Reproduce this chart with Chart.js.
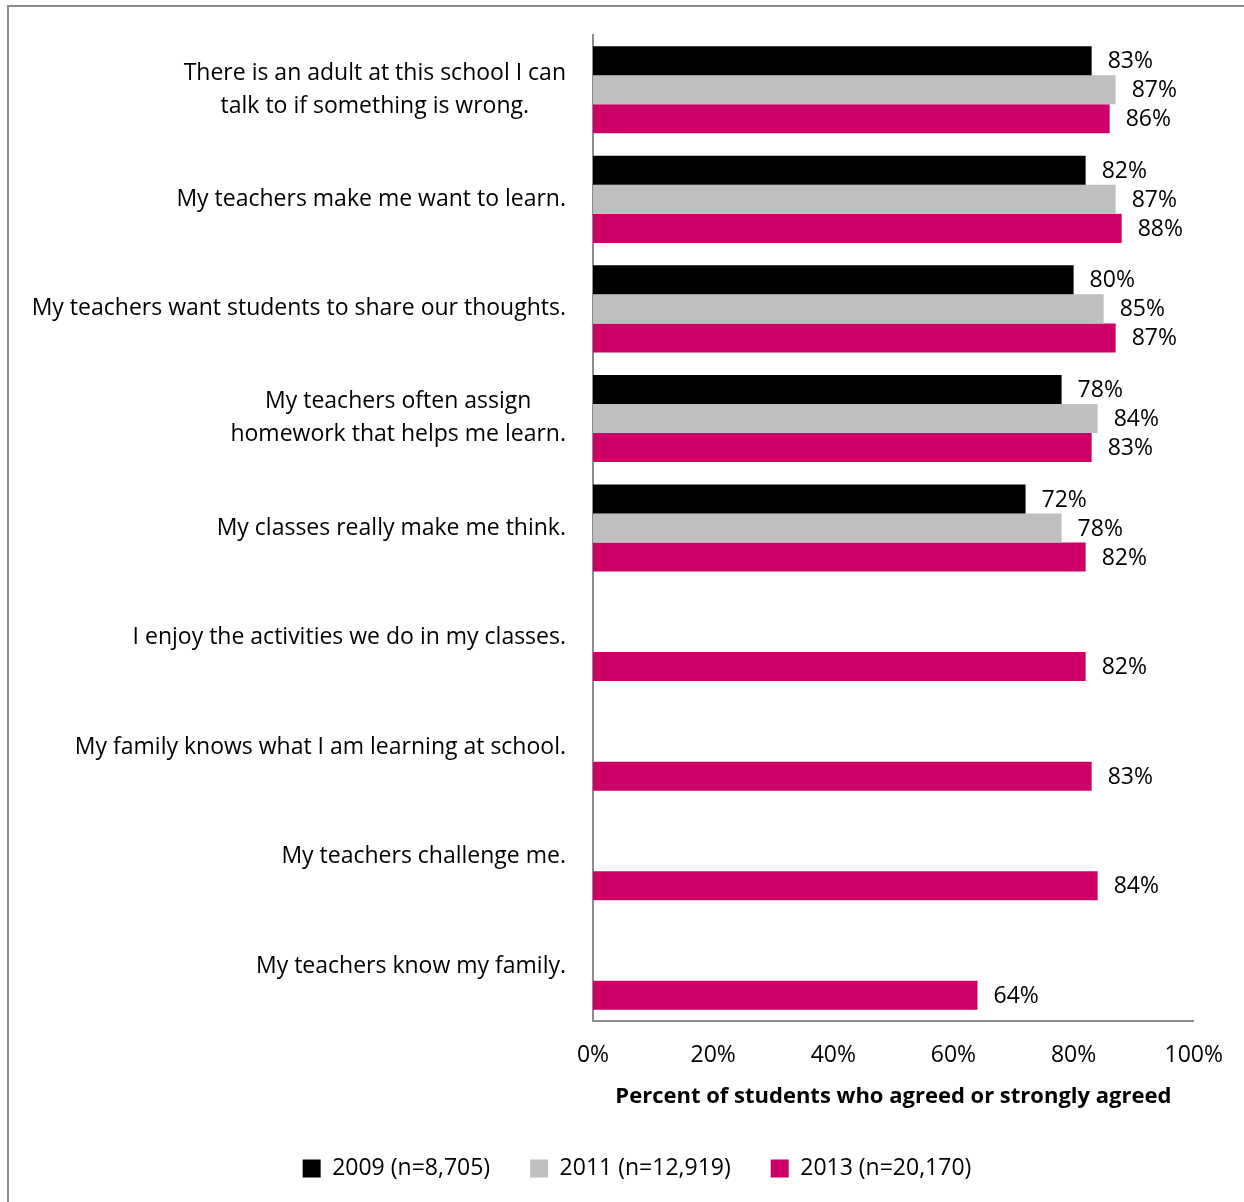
<!DOCTYPE html>
<html>
<head>
<meta charset="utf-8">
<script src="https://cdn.jsdelivr.net/npm/chart.js@4/dist/chart.umd.min.js"></script>
<style>
  html, body { margin: 0; padding: 0; background: #fff; overflow: hidden; }
  #wrap { position: relative; width: 1244px; height: 1202px; }
  #frame { position: absolute; left: 7px; top: 5px; width: 1300px; height: 1300px; border-left: 2px solid #8c8c8c; border-top: 2px solid #8c8c8c; }
  canvas { position: absolute; left: 0; top: 0; }
</style>
</head>
<body>
<div id="wrap">
  <div id="frame"></div>
  <canvas id="chart" width="1244" height="1202"></canvas>
</div>
<script>
const categories = [
  ["There is an adult at this school I can", "talk to if something is wrong."],
  ["My teachers make me want to learn."],
  ["My teachers want students to share our thoughts."],
  ["My teachers often assign", "homework that helps me learn."],
  ["My classes really make me think."],
  ["I enjoy the activities we do in my classes."],
  ["My family knows what I am learning at school."],
  ["My teachers challenge me."],
  ["My teachers know my family."]
];
const values2009 = [83, 82, 80, 78, 72, null, null, null, null];
const values2011 = [87, 87, 85, 84, 78, null, null, null, null];
const values2013 = [86, 88, 87, 83, 82, 82, 83, 84, 64];
const seriesNames = ["2009 (n=8,705)", "2011 (n=12,919)", "2013 (n=20,170)"];
const xTicks = [0, 20, 40, 60, 80, 100];

const FONT = "'Open Sans', 'DejaVu Sans', sans-serif";
const PAD_LEFT = 77;

// Etiquetas de categoría: bloque alineado a la derecha, líneas centradas
const catLabels = {
  id: "catLabels",
  afterDraw(chart) {
    const ctx = chart.ctx;
    const y = chart.scales.y;
    const right = chart.chartArea.left - 27;
    ctx.save();
    ctx.font = "23px " + FONT;
    ctx.fillStyle = "#000";
    ctx.textBaseline = "middle";
    ctx.textAlign = "center";
    categories.forEach((lines, i) => {
      const cy = y.getPixelForValue(i);
      const w = Math.max(...lines.map(l => ctx.measureText(l).width));
      const cx = right - w / 2;
      const lh = 33;
      const top = cy - (lines.length - 1) * lh / 2;
      lines.forEach((l, j) => ctx.fillText(l, cx, top + j * lh));
    });
    ctx.restore();
  }
};

// Valores al final de cada barra
const barValues = {
  id: "barValues",
  afterDatasetsDraw(chart) {
    const ctx = chart.ctx;
    ctx.save();
    ctx.font = "23px " + FONT;
    ctx.fillStyle = "#000";
    ctx.textBaseline = "middle";
    ctx.textAlign = "left";
    chart.data.datasets.forEach((ds, di) => {
      chart.getDatasetMeta(di).data.forEach((bar, i) => {
        const v = ds.data[i];
        if (v == null) return;
        ctx.fillText(v + "%", bar.x + 16, bar.y + 1);
      });
    });
    ctx.restore();
  }
};

new Chart(document.getElementById("chart"), {
  type: "bar",
  data: {
    labels: categories.map(c => c.join(" ")),
    datasets: [
      { label: seriesNames[0], data: values2009, backgroundColor: "#000000" },
      { label: seriesNames[1], data: values2011, backgroundColor: "#bfbfbf" },
      { label: seriesNames[2], data: values2013, backgroundColor: "#cc0066" }
    ]
  },
  options: {
    indexAxis: "y",
    responsive: false,
    animation: false,
    datasets: { bar: { categoryPercentage: 0.795, barPercentage: 1 } },
    layout: { padding: { top: 35, right: 47, bottom: 12, left: PAD_LEFT } },
    scales: {
      x: {
        min: 0, max: 100,
        afterBuildTicks: s => { s.ticks = xTicks.map(v => ({ value: v })); },
        grid: { display: false, drawTicks: false },
        border: { display: true, color: "#8c8c8c", width: 2 },
        ticks: { color: "#000", font: { family: FONT, size: 23 }, padding: 21, callback: v => v + "%" },
        title: { display: true, text: "Percent of students who agreed or strongly agreed", color: "#000", font: { family: FONT, size: 22, weight: "bold" }, padding: { top: -7, bottom: 7 } }
      },
      y: {
        grid: { display: false, drawTicks: false },
        border: { display: true, color: "#8c8c8c", width: 2 },
        ticks: { display: false },
        afterFit: s => { s.width = 593 - PAD_LEFT; }
      }
    },
    plugins: {
      legend: {
        position: "bottom",
        labels: { color: "#000", font: { family: FONT, size: 23 }, boxWidth: 18, boxHeight: 18, padding: 40 }
      },
      tooltip: { enabled: false }
    }
  },
  plugins: [catLabels, barValues]
});
</script>
</body>
</html>
